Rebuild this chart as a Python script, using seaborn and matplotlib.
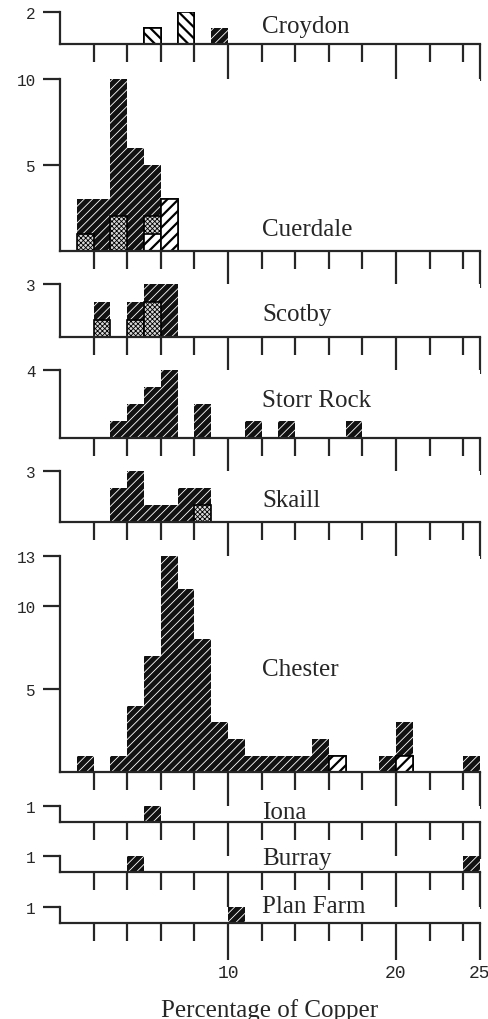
import matplotlib
matplotlib.use("Agg")
import pandas as pd
import matplotlib.pyplot as plt
import seaborn as sns

sns.set_style("ticks")
plt.rcParams["font.family"] = ["Liberation Mono", "DejaVu Sans Mono"]
plt.rcParams["hatch.linewidth"] = 0.8

# hoards, top to bottom
hoards = ["Croydon", "Cuerdale", "Scotby", "Storr Rock", "Skaill",
          "Chester", "Iona", "Burray", "Plan Farm"]
y_max = [2, 10, 3, 4, 3, 13, 1, 1, 1]
y_ticks = [[2], [5, 10], [3], [4], [3], [5, 10, 13], [1], [1], [1]]

# per hoard: lower edge of the 1% copper bin, number of objects, kind
croydon_pct = [5, 7, 9]
croydon_n = [1, 2, 1]
croydon_kind = ["back", "back", "dark"]

cuerdale_pct = [1, 1, 2, 3, 3, 4, 5, 5, 5, 6]
cuerdale_n = [2, 1, 3, 8, 2, 6, 3, 1, 1, 3]
cuerdale_kind = ["dark", "stipple", "dark", "dark", "stipple", "dark",
                 "dark", "stipple", "hatch", "hatch"]

scotby_pct = [2, 2, 4, 4, 5, 5, 6]
scotby_n = [1, 1, 1, 1, 1, 2, 3]
scotby_kind = ["dark", "stipple", "dark", "stipple", "dark", "stipple", "dark"]

storr_pct = [3, 4, 5, 6, 8, 11, 13, 17]
storr_n = [1, 2, 3, 4, 2, 1, 1, 1]
storr_kind = ["dark"] * 8

skaill_pct = [3, 4, 5, 6, 7, 8, 8]
skaill_n = [2, 3, 1, 1, 2, 1, 1]
skaill_kind = ["dark", "dark", "dark", "dark", "dark", "dark", "stipple"]

chester_pct = [1, 3, 4, 5, 6, 7, 8, 9, 10, 11, 12, 13, 14, 15, 16, 19, 20, 20, 24]
chester_n = [1, 1, 4, 7, 13, 11, 8, 3, 2, 1, 1, 1, 1, 2, 1, 1, 2, 1, 1]
chester_kind = ["dark"] * 14 + ["hatch", "dark", "dark", "hatch", "dark"]

iona_pct = [5]
iona_n = [1]
iona_kind = ["dark"]

burray_pct = [4, 24]
burray_n = [1, 1]
burray_kind = ["dark", "dark"]

planfarm_pct = [10]
planfarm_n = [1]
planfarm_kind = ["dark"]

series = [
    (croydon_pct, croydon_n, croydon_kind),
    (cuerdale_pct, cuerdale_n, cuerdale_kind),
    (scotby_pct, scotby_n, scotby_kind),
    (storr_pct, storr_n, storr_kind),
    (skaill_pct, skaill_n, skaill_kind),
    (chester_pct, chester_n, chester_kind),
    (iona_pct, iona_n, iona_kind),
    (burray_pct, burray_n, burray_kind),
    (planfarm_pct, planfarm_n, planfarm_kind),
]

rows = []
for name, (pct, n, kind) in zip(hoards, series):
    for p, c, k in zip(pct, n, kind):
        rows.append({"hoard": name, "pct": p, "count": c, "kind": k})
df = pd.DataFrame(rows)

# layout in pixels (figure is 489 x 1020)
W, H = 489, 1020
base_px = [45, 251.7, 338.3, 439.3, 522.7, 773.3, 823.3, 873.3, 924]
top_px = [13, 80, 285, 371, 471.7, 556.7, 806.7, 856.7, 908]
name_base_px = [33, 236, 321, 407, 507, 676, 819, 865, 913]

# drawing layers: each layer covers itself and everything stacked below it
layers = [
    (["dark", "stipple", "hatch", "back"],
     dict(facecolor="#111111", edgecolor="white", linewidth=0, hatch="////"), 0.6),
    (["stipple", "hatch", "back"],
     dict(facecolor="#d8d8d8", edgecolor="black", linewidth=1.2, hatch="xxxxxxx"), 0.6),
    (["hatch", "back"],
     dict(facecolor="white", edgecolor="black", linewidth=1.2, hatch="///"), 1.6),
    (["back"],
     dict(facecolor="white", edgecolor="black", linewidth=1.2, hatch="\\\\\\"), 1.6),
]

fig = plt.figure(figsize=(W / 100, H / 100), dpi=100)

for i, name in enumerate(hoards):
    ax = fig.add_axes([60 / W, 1 - base_px[i] / H, 420 / W,
                       (base_px[i] - top_px[i]) / H])
    sub = df[df["hoard"] == name]
    for kinds, kws, hlw in layers:
        part = sub[sub["kind"].isin(kinds)]
        if part.empty:
            continue
        n0 = len(ax.patches)
        sns.histplot(data=part, x="pct", weights="count", binwidth=1,
                     binrange=(0, 25), element="bars", ax=ax, **kws)
        for p in list(ax.patches[n0:]):
            if p.get_height() == 0:
                p.remove()
            elif hasattr(p, "set_hatch_linewidth"):
                p.set_hatch_linewidth(hlw)

    ax.set_xlim(0, 25)
    ax.set_ylim(0, y_max[i])
    ax.set_ylabel("")
    ax.set_xlabel("")
    sns.despine(ax=ax)
    for s in ("left", "bottom"):
        ax.spines[s].set_linewidth(1.6)

    ax.set_xticks([10, 20, 25])
    ax.set_xticks([2, 4, 6, 8, 12, 14, 16, 18, 22, 24], minor=True)
    ax.set_yticks(y_ticks[i])
    ax.tick_params(axis="x", which="major", length=26.5, width=1.6,
                   direction="out", labelsize=13, pad=3)
    ax.tick_params(axis="x", which="minor", length=13, width=1.6,
                   direction="out")
    ax.tick_params(axis="y", length=12.5, width=1.6, direction="out",
                   labelsize=11.5, pad=5)
    if i < len(hoards) - 1:
        ax.tick_params(axis="x", labelbottom=False)
    else:
        ax.set_xlabel("Percentage of Copper", family="Liberation Serif",
                      fontsize=18, labelpad=12)

    fig.text(262 / W, 1 - name_base_px[i] / H, name, family="Liberation Serif",
             fontsize=18, va="baseline", ha="left")

fig.savefig("out.png", dpi=100)
